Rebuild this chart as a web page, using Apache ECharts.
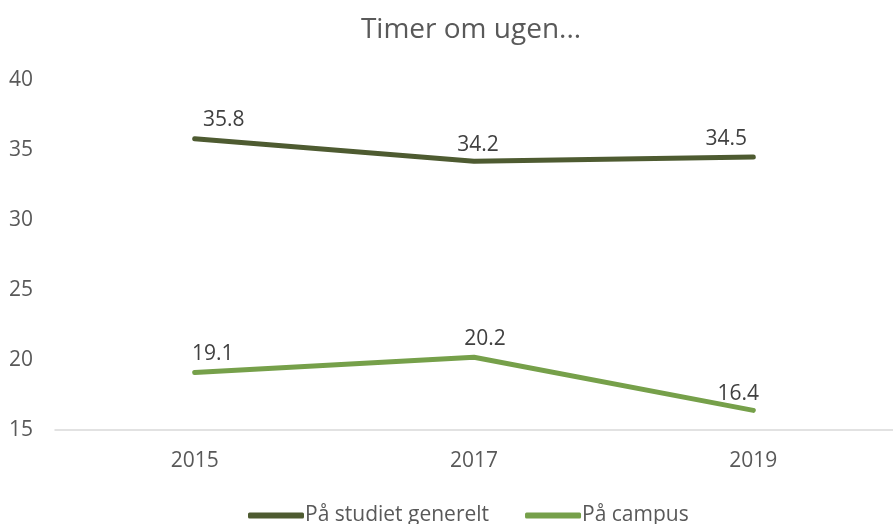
<!DOCTYPE html>
<html>
<head>
<meta charset="utf-8">
<script src="https://cdn.jsdelivr.net/npm/echarts@6/dist/echarts.min.js"></script>
<style>
html,body{margin:0;padding:0;background:#fff;}
#main{width:893px;height:524px;}
</style>
</head>
<body>
<div id="main"></div>
<script>
// data
var years = ["2015", "2017", "2019"];
var generelt = [35.8, 34.2, 34.5];
var campus = [19.1, 20.2, 16.4];
var seriesNames = ["På studiet generelt", "På campus"];

// where each data label sits relative to its point (px)
var labelShiftGen = [[29, -2], [4, 0], [-27, -1]];
var labelShiftCam = [[18, -2], [11, -2], [-15, 0]];

var font = "'Open Sans', sans-serif";

function withLabels(values, shifts) {
	return values.map(function (v, i) {
		return { value: v, label: { offset: shifts[i] } };
	});
}

var myChart = echarts.init(document.getElementById("main"));
var option = {
	animation: false,
	title: {
		text: "Timer om ugen...",
		left: 466,
		top: 11,
		textAlign: "center",
		textStyle: {
			color: "#595959",
			fontSize: 28,
			fontWeight: "normal",
			fontFamily: font
		}
	},
	legend: {
		bottom: -7,
		left: 243,
		itemGap: 36,
		itemWidth: 56,
		itemHeight: 6,
		icon: "roundRect",
		textStyle: {
			color: "#595959",
			fontSize: 21,
			fontFamily: font,
			padding: [0, 0, 0, -4]
		},
		data: seriesNames
	},
	grid: {
		left: 55,
		right: -14,
		top: 80,
		bottom: 94
	},
	xAxis: {
		type: "category",
		data: years,
		axisTick: { show: false },
		axisLine: { lineStyle: { color: "#d9d9d9", width: 1.5 } },
		axisLabel: {
			color: "#595959",
			fontSize: 21,
			fontFamily: font,
			margin: 21
		}
	},
	yAxis: {
		type: "value",
		min: 15,
		max: 40,
		interval: 5,
		splitLine: { show: false },
		axisLine: { show: false },
		axisTick: { show: false },
		axisLabel: {
			color: "#595959",
			fontSize: 21,
			fontFamily: font,
			margin: 46,
			align: "left"
		}
	},
	series: [
		{
			name: seriesNames[0],
			type: "line",
			data: withLabels(generelt, labelShiftGen),
			symbol: "circle",
			symbolSize: 0,
			color: "#4e5b31",
			lineStyle: { width: 5, cap: "round", color: "#4e5b31" },
			label: {
				show: true,
				position: "top",
				distance: 6,
				color: "#404040",
				fontSize: 21,
				fontFamily: font
			}
		},
		{
			name: seriesNames[1],
			type: "line",
			data: withLabels(campus, labelShiftCam),
			symbol: "circle",
			symbolSize: 0,
			color: "#76a04a",
			lineStyle: { width: 5, cap: "round", color: "#76a04a" },
			label: {
				show: true,
				position: "top",
				distance: 6,
				color: "#404040",
				fontSize: 21,
				fontFamily: font
			}
		}
	]
};
myChart.setOption(option);
</script>
</body>
</html>
